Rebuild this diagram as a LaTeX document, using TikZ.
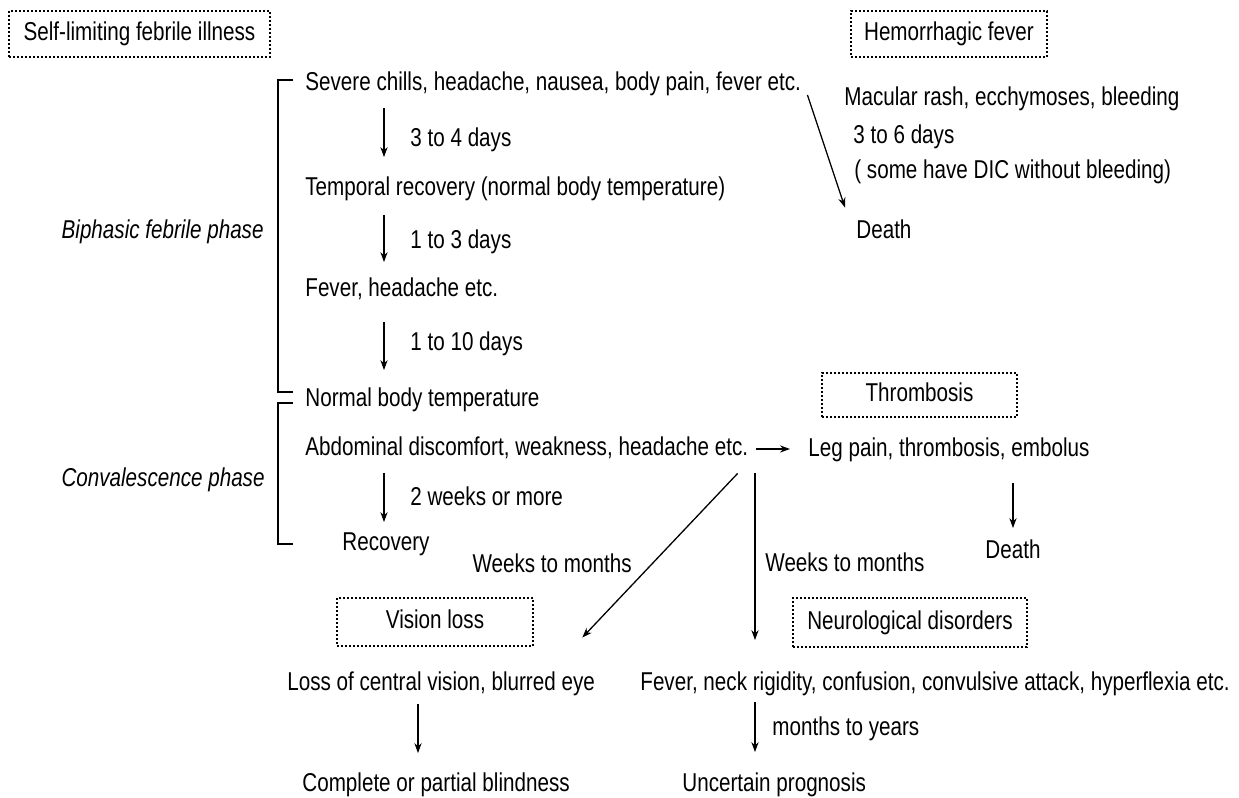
\documentclass[tikz,border=0pt]{standalone}
\usepackage{fontspec}
\setmainfont{Liberation Sans}[FakeStretch=0.8]
\usepackage{tikz}
\usetikzlibrary{arrows.meta,positioning,calc}

\begin{document}
\begin{tikzpicture}[
    x=0.5pt, y=-0.5pt,
    font=\fontsize{12.9pt}{15pt}\selectfont,
    txt/.style={inner sep=0pt, text height=9pt, text depth=2.5pt, anchor=west},
    phase/.style={txt, anchor=east, font=\fontsize{12.9pt}{15pt}\selectfont\itshape},
    tag/.style={draw, densely dotted, line width=1pt, inner sep=0pt, text height=9pt, text depth=2.5pt, minimum height=23pt},
    line/.style={-{Stealth[length=5pt,width=3.6pt]}, line width=0.65pt, shorten <=7pt, shorten >=8pt},
    brace/.style={line width=0.9pt}
]
\useasboundingbox[fill=white] (0,0) rectangle (1239,798);

\node[tag, minimum width=130.5pt] (selftag) at (139.5,33.5) {Self-limiting febrile illness};
\node[tag, minimum width=98pt] (hemtag) at (949,34) {Hemorrhagic fever};
\node[tag, minimum width=97.5pt, minimum height=22pt] (thrtag) at (919.5,395) {Thrombosis};
\node[tag, minimum width=98pt, minimum height=24pt] (vistag) at (435,622) {Vision loss};
\node[tag, minimum width=117pt, minimum height=24.5pt] (neutag) at (910,622.5) {Neurological disorders};

\node[phase] (biphase) at (264,232) {Biphasic febrile phase};
\node[phase] (convphase) at (265,480) {Convalescence phase};

\node[txt] (sev) at (305,84) {Severe chills, headache, nausea, body pain, fever etc.};
\node[txt] (d34) at (410,140) {3 to 4 days};
\node[txt] (temp) at (305,189) {Temporal recovery (normal body temperature)};
\node[txt] (d13) at (410,242) {1 to 3 days};
\node[txt] (fev) at (305,290) {Fever, headache etc.};
\node[txt] (d110) at (410,344) {1 to 10 days};
\node[txt] (norm) at (305,400) {Normal body temperature};
\node[txt] (abd) at (305,449) {Abdominal discomfort, weakness, headache etc.};
\node[txt] (wk2) at (410,499) {2 weeks or more};
\node[txt] (rec) at (342,544) {Recovery};

\node[txt] (mac) at (844,99) {Macular rash, ecchymoses, bleeding};
\node[txt] (d36) at (853,137) {3 to 6 days};
\node[txt] (dic) at (854,172) {( some have DIC without bleeding)};
\node[txt] (hdeath) at (856,232) {Death};

\node[txt] (leg) at (808,450) {Leg pain, thrombosis, embolus};
\node[txt, anchor=center] (tdeath) at (1013,552) {Death};

\node[txt, anchor=east] (wmleft) at (632,566) {Weeks to months};
\node[txt] (wmright) at (765,565) {Weeks to months};

\node[txt] (loss) at (287,684) {Loss of central vision, blurred eye};
\node[txt] (blind) at (302,785) {Complete or partial blindness};
\node[txt] (neufev) at (640,684) {Fever, neck rigidity, confusion, convulsive attack, hyperflexia etc.};
\node[txt] (myr) at (772,729) {months to years};
\node[txt] (unc) at (682,785) {Uncertain prognosis};

\coordinate (brk) at (278,0);
\coordinate (tick) at (293,0);
\coordinate (colA) at (384,0);
\coordinate (colB) at (755,0);
\coordinate (colC) at (418,0);

\draw[brace] ($(sev.west -| tick)+(0,-4)$) -| ($(norm.west -| brk)+(0,-8)$) -- ($(norm.west -| tick)+(0,-8)$);
\draw[brace] ($(norm.west -| tick)+(0,3)$) -| (rec.west -| brk) -- (rec.west -| tick);

\draw[line, shorten <=6pt, shorten >=10pt] (sev.south -| colA) -- (temp.north -| colA);
\draw[line] (temp.south -| colA) -- (fev.north -| colA);
\draw[line, shorten <=10pt, shorten >=9pt] (fev.south -| colA) -- (norm.north -| colA);
\draw[line, shorten <=6pt, shorten >=5pt] (abd.south -| colA) -- (rec.north -| colA);

\draw[line, shorten <=0pt, shorten >=0pt] ($(sev.east)+(6,11)$) -- ($(hdeath.north west)+(-11,-12.5)$);
\draw[line, shorten <=3.5pt, shorten >=9pt] (abd.east) -- (abd.east -| leg.west);
\draw[line, shorten <=10.5pt, shorten >=6pt] (leg.south -| tdeath.north) -- (tdeath.north);

\draw[line, shorten <=0pt, shorten >=0pt] ($(abd.south east)+(-11,12.5)$) -- ($(loss.north east)+(-13,-34.5)$);
\draw[line, shorten <=6pt, shorten >=16pt] (abd.south -| colB) -- (neufev.north -| colB);

\draw[line, shorten <=4pt, shorten >=10pt] (loss.south -| colC) -- (blind.north -| colC);
\draw[line, shorten <=3pt, shorten >=10.5pt] (neufev.south -| colB) -- (unc.north -| colB);
\end{tikzpicture}
\end{document}
